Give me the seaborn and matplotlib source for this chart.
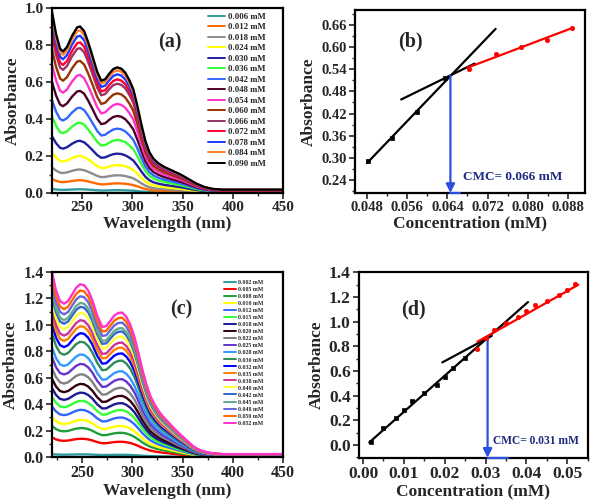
import numpy as np
import pandas as pd
import matplotlib
matplotlib.use("Agg")
import matplotlib.pyplot as plt
import seaborn as sns
from matplotlib.ticker import MultipleLocator, FormatStrFormatter

sns.set_style("ticks")
plt.rcParams['font.family'] = ['Liberation Serif', 'DejaVu Serif']
plt.rcParams['font.weight'] = 'bold'
plt.rcParams['axes.labelweight'] = 'bold'

# ---------------- data: panel (a) ----------------
wl_a = [220, 224, 228, 231, 235, 240, 245, 248, 252, 256, 260, 265, 269, 273, 277,
        281, 285, 289, 293, 297, 301, 305, 309, 313, 317, 321, 326, 332, 340, 348,
        356, 364, 372, 380, 390, 400, 425, 450]
# absorbance of the highest (0.090 mM) spectrum
top_a = [0.98, 0.86, 0.78, 0.765, 0.79, 0.85, 0.895, 0.90, 0.875, 0.815, 0.745, 0.655,
         0.607, 0.615, 0.645, 0.67, 0.679, 0.672, 0.65, 0.61, 0.56, 0.47, 0.37, 0.28,
         0.22, 0.185, 0.16, 0.14, 0.12, 0.10, 0.075, 0.05, 0.032, 0.022, 0.018, 0.018,
         0.018, 0.018]
labels_a = ['0.006 mM', '0.012 mM', '0.018 mM', '0.024 mM', '0.030 mM', '0.036 mM',
            '0.042 mM', '0.048 mM', '0.054 mM', '0.060 mM', '0.066 mM', '0.072 mM',
            '0.078 mM', '0.084 mM', '0.090 mM']
# absorbance at the 248 nm band for each spectrum
peak_a = [0.02, 0.069, 0.127, 0.20, 0.282, 0.38, 0.461, 0.552, 0.638, 0.714, 0.783,
          0.814, 0.85, 0.879, 0.90]
colors_a = ['#2E9C9C', '#FF6A00', '#8C8C8C', '#FFFF00', '#1F1FA0', '#33FF33', '#3366FF',
            '#4D0026', '#FF33CC', '#993300', '#993366', '#FF0033', '#1A3CFF', '#FF7F2A',
            '#000000']

# ---------------- data: panel (b) ----------------
conc_b_pre = [0.0482, 0.0530, 0.0580, 0.0636]
abs_b_pre = [0.291, 0.353, 0.423, 0.515]
conc_b_post = [0.0684, 0.0736, 0.0786, 0.0838, 0.0888]
abs_b_post = [0.540, 0.582, 0.600, 0.620, 0.652]
fit_b_steep_x = [0.0480, 0.0736]
fit_b_steep_y = [0.286, 0.649]
fit_b_flat_x = [0.0548, 0.0694]
fit_b_flat_y = [0.458, 0.555]
fit_b_red_x = [0.0680, 0.0890]
fit_b_red_y = [0.544, 0.652]
cmc_b_x = 0.0646
cmc_b_y = 0.523
cmc_b_text = 'CMC= 0.066 mM'

# ---------------- data: panel (c) ----------------
wl_c = [220, 224, 228, 232, 236, 240, 244, 248, 252, 256, 260, 265, 270, 274, 278, 282,
        286, 290, 294, 298, 302, 306, 310, 314, 318, 322, 326, 330, 335, 340, 345, 350,
        355, 360, 365, 370, 375, 380, 390, 400, 425, 450]
# absorbance of the highest (0.052 mM) spectrum
top_c = [1.40, 1.26, 1.18, 1.16, 1.18, 1.23, 1.28, 1.307, 1.30, 1.26, 1.19, 1.07, 0.985,
         0.99, 1.03, 1.07, 1.09, 1.093, 1.06, 1.00, 0.91, 0.79, 0.66, 0.55, 0.46, 0.40,
         0.35, 0.31, 0.27, 0.23, 0.19, 0.155, 0.12, 0.085, 0.06, 0.045, 0.035, 0.028,
         0.022, 0.022, 0.022, 0.022]
conc_c = [0.002, 0.005, 0.008, 0.010, 0.012, 0.015, 0.018, 0.020, 0.022, 0.025, 0.028,
          0.030, 0.032, 0.035, 0.038, 0.040, 0.042, 0.045, 0.048, 0.050, 0.052]
labels_c = ['0.002 mM', '0.005 mM', '0.008 mM', '0.010 mM', '0.012 mM', '0.015 mM',
            '0.018 mM', '0.020 mM', '0.022 mM', '0.025 mM', '0.028 mM', '0.030 mM',
            '0.032 mM', '0.035 mM', '0.038 mM', '0.040 mM', '0.042 mM', '0.045 mM',
            '0.048 mM', '0.050 mM', '0.052 mM']
# absorbance at the 248 nm band (also plotted in panel d)
peak_c = [0.02, 0.138, 0.219, 0.281, 0.357, 0.425, 0.487, 0.553, 0.626, 0.704, 0.776,
          0.872, 0.937, 0.99, 1.035, 1.09, 1.136, 1.166, 1.216, 1.26, 1.307]
colors_c = ['#2E9C9C', '#FF0000', '#1E9E3A', '#FFFF00', '#3366FF', '#33FF33', '#1A1A99',
            '#330011', '#808080', '#6633CC', '#3399FF', '#2E8B57', '#0000FF', '#FF7F00',
            '#CC3399', '#FFFF33', '#3366CC', '#66AA88', '#6666DD', '#FF6600', '#FF33CC']

# ---------------- data: panel (d) ----------------
n_pre_d = 10
fit_d_steep_x = [0.0015, 0.0404]
fit_d_steep_y = [0.02, 1.16]
fit_d_flat_x = [0.0194, 0.0315]
fit_d_flat_y = [0.67, 0.885]
fit_d_red_x = [0.0280, 0.0527]
fit_d_red_y = [0.838, 1.30]
cmc_d_x = 0.0305
cmc_d_y = 0.88
cmc_d_text = 'CMC= 0.031 mM'

ARROW = '#2B4FE0'
TEXTC = '#1A2A80'

fig = plt.figure(figsize=(5.91, 5.01), dpi=100)
W, H = 591.0, 501.0
ax_a = fig.add_axes([52 / W, 1 - 193 / H, 231 / W, 185 / H])
ax_b = fig.add_axes([355 / W, 1 - 193 / H, 230 / W, 183 / H])
ax_c = fig.add_axes([52 / W, 1 - 457 / H, 231 / W, 185 / H])
ax_d = fig.add_axes([359 / W, 1 - 458 / H, 229 / W, 186 / H])


def style(ax, lsize):
    for s in ax.spines.values():
        s.set_linewidth(1.6)
        s.set_color('black')
    ax.tick_params(axis='both', which='major', direction='out', length=4, width=1.2,
                   labelsize=lsize, top=False, right=False, pad=2)
    ax.tick_params(axis='both', which='minor', direction='out', length=2, width=1.0,
                   top=False, right=False)
    for t in ax.get_xticklabels() + ax.get_yticklabels():
        t.set_fontweight('bold')


def spectra(ax, wl, top, peaks, labels, colors, fs, lspace, anchor):
    rows = []
    ref = peaks[-1]
    for lab, pk in zip(labels, peaks):
        for w, t in zip(wl, top):
            rows.append((w, t * pk / ref, lab))
    df = pd.DataFrame(rows, columns=['wl', 'A', 'conc'])
    sns.lineplot(data=df, x='wl', y='A', hue='conc', hue_order=labels,
                 palette=dict(zip(labels, colors)), ax=ax, lw=1.7, legend=False,
                 errorbar=None)
    handles = ax.get_lines()[:len(labels)]
    leg = ax.legend(handles, labels, loc='upper left', bbox_to_anchor=anchor,
                    frameon=False, prop={'size': fs, 'weight': 'bold'},
                    handlelength=2.0, handletextpad=0.3, labelspacing=lspace,
                    borderpad=0.0, borderaxespad=0.0)
    for h in leg.legend_handles:
        h.set_linewidth(1.4)
    ax.set_xlim(220, 450)
    ax.xaxis.set_major_locator(MultipleLocator(50))
    ax.xaxis.set_minor_locator(MultipleLocator(25))
    ax.yaxis.set_minor_locator(MultipleLocator(0.1))
    ax.yaxis.set_major_formatter(FormatStrFormatter('%.1f'))
    ax.set_xlabel('Wavelength (nm)', fontsize=12.5, fontweight='bold', labelpad=1)
    ax.set_ylabel('Absorbance', fontsize=12.5, fontweight='bold', labelpad=3)


# ---- (a)
spectra(ax_a, wl_a, top_a, peak_a, labels_a, colors_a, 6.3, 0.27, (0.675, 0.975))
ax_a.set_ylim(0, 1.0)
ax_a.yaxis.set_major_locator(MultipleLocator(0.2))
style(ax_a, 11)
ax_a.text(0.51, 0.815, '(a)', transform=ax_a.transAxes, ha='center', va='center',
          fontsize=14.5, fontweight='bold')

# ---- (c)
spectra(ax_c, wl_c, top_c, peak_c, labels_c, colors_c, 4.2, 0.33, (0.745, 0.955))
ax_c.set_ylim(0, 1.4)
ax_c.yaxis.set_major_locator(MultipleLocator(0.2))
style(ax_c, 11.5)
ax_c.text(0.56, 0.795, '(c)', transform=ax_c.transAxes, ha='center', va='center',
          fontsize=14.5, fontweight='bold')


def cmc_panel(ax, xp, yp, xr, yr, fits, cx, cy, ylo, txt, tx, ty, tfs, hx):
    sns.lineplot(x=fits[0][0], y=fits[0][1], ax=ax, color='black', lw=1.6)
    sns.lineplot(x=fits[1][0], y=fits[1][1], ax=ax, color='black', lw=1.6)
    sns.lineplot(x=fits[2][0], y=fits[2][1], ax=ax, color='#FF0000', lw=1.6)
    sns.scatterplot(x=xp, y=yp, ax=ax, marker='s', color='black', s=9,
                    edgecolor='black', linewidth=0.5, zorder=4)
    sns.scatterplot(x=xr, y=yr, ax=ax, marker='o', color='#FF0000', s=10,
                    edgecolor='#FF0000', linewidth=0.5, zorder=4)
    ax.annotate('', xy=(cx, ylo), xytext=(cx, cy),
                arrowprops=dict(arrowstyle='-|>', color=ARROW, lw=1.6,
                                mutation_scale=13, shrinkA=0, shrinkB=0))
    ax.plot([cx, hx], [ylo, ylo], color=ARROW, lw=1.6, clip_on=False, zorder=5)
    ax.text(tx, ty, txt, color=TEXTC, fontsize=tfs, fontweight='bold',
            ha='left', va='center')
    ax.set_xlabel('Concentration (mM)', fontsize=12.5, fontweight='bold', labelpad=1)
    ax.set_ylabel('Absorbance', fontsize=12.5, fontweight='bold', labelpad=3)


# ---- (b)
cmc_panel(ax_b, conc_b_pre, abs_b_pre, conc_b_post, abs_b_post,
          [(fit_b_steep_x, fit_b_steep_y), (fit_b_flat_x, fit_b_flat_y),
           (fit_b_red_x, fit_b_red_y)],
          cmc_b_x, cmc_b_y, 0.205, cmc_b_text, 0.0672, 0.248, 9.5, 0.0665)
ax_b.set_xlim(0.0456, 0.0914)
ax_b.set_ylim(0.205, 0.70)
ax_b.xaxis.set_minor_locator(MultipleLocator(0.004))
ax_b.yaxis.set_minor_locator(MultipleLocator(0.03))
ax_b.set_xticks([0.048, 0.056, 0.064, 0.072, 0.080, 0.088])
ax_b.set_yticks([0.24, 0.30, 0.36, 0.42, 0.48, 0.54, 0.60, 0.66])
ax_b.xaxis.set_major_formatter(FormatStrFormatter('%.3f'))
ax_b.yaxis.set_major_formatter(FormatStrFormatter('%.2f'))
style(ax_b, 10.5)
ax_b.text(0.243, 0.83, '(b)', transform=ax_b.transAxes, ha='center', va='center',
          fontsize=14.5, fontweight='bold')

# ---- (d)
cmc_panel(ax_d, conc_c[:n_pre_d], peak_c[:n_pre_d], conc_c[n_pre_d:], peak_c[n_pre_d:],
          [(fit_d_steep_x, fit_d_steep_y), (fit_d_flat_x, fit_d_flat_y),
           (fit_d_red_x, fit_d_red_y)],
          cmc_d_x, cmc_d_y, -0.104, cmc_d_text, 0.0319, 0.035, 8.3, 0.0355)
ax_d.set_xlim(-0.001, 0.0551)
ax_d.set_ylim(-0.106, 1.404)
ax_d.xaxis.set_major_locator(MultipleLocator(0.01))
ax_d.xaxis.set_minor_locator(MultipleLocator(0.005))
ax_d.yaxis.set_major_locator(MultipleLocator(0.2))
ax_d.yaxis.set_minor_locator(MultipleLocator(0.1))
ax_d.xaxis.set_major_formatter(FormatStrFormatter('%.2f'))
ax_d.yaxis.set_major_formatter(FormatStrFormatter('%.1f'))
style(ax_d, 12.5)
ax_d.text(0.238, 0.796, '(d)', transform=ax_d.transAxes, ha='center', va='center',
          fontsize=14.5, fontweight='bold')

fig.savefig('out.png', dpi=100)
